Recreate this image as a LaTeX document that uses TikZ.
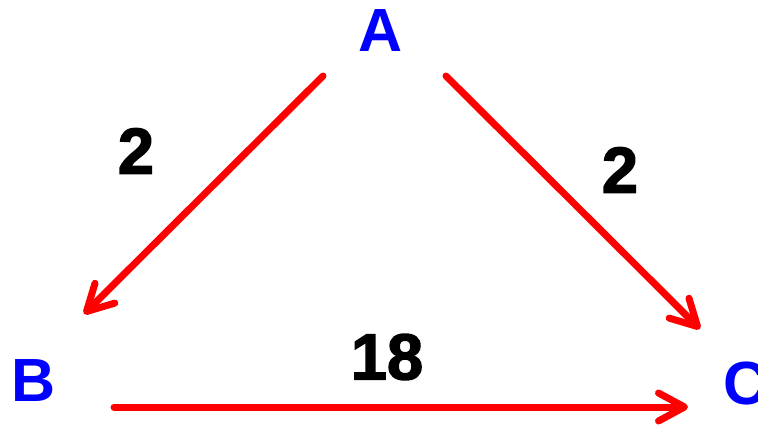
\documentclass[tikz,border=0pt]{standalone}
\usepackage{fontspec}
\setmainfont{Liberation Sans}
\newfontfamily\heavyfont[FakeBold=2.2]{Liberation Sans Bold}
\usetikzlibrary{arrows.meta}
\begin{document}
\begin{tikzpicture}[x=1pt,y=-1pt,
  lbl/.style={text=blue,font=\fontsize{61}{61}\selectfont\bfseries,inner sep=0pt},
  num/.style={text=black,font=\fontsize{65}{65}\heavyfont,inner sep=0pt},
  edge/.style={draw=red,line width=7pt,line cap=round,
    -{Straight Barb[length=26pt,width=28pt,line cap=round,line join=round]}}]
\useasboundingbox (0,0) rectangle (758,424);
\node[lbl] (A) at (381,31) {A};
\node[lbl] (B) at (34,381) {B};
\node[lbl] (C) at (746,383) {C};
\node[num] (n1) at (136,151) {2};
\node[num] (n2) at (620,170) {2};
\node[num] (n3) at (387,357) {18};
\coordinate (ab1) at (323,76);
\coordinate (ab2) at (84,314);
\coordinate (ac1) at (446,76);
\coordinate (ac2) at (700,329);
\coordinate (bc1) at (114,407);
\coordinate (bc2) at (688,407);
\draw[edge] (ab1) -- (ab2);
\draw[edge] (ac1) -- (ac2);
\draw[edge] (bc1) -- (bc2);
\end{tikzpicture}
\end{document}
